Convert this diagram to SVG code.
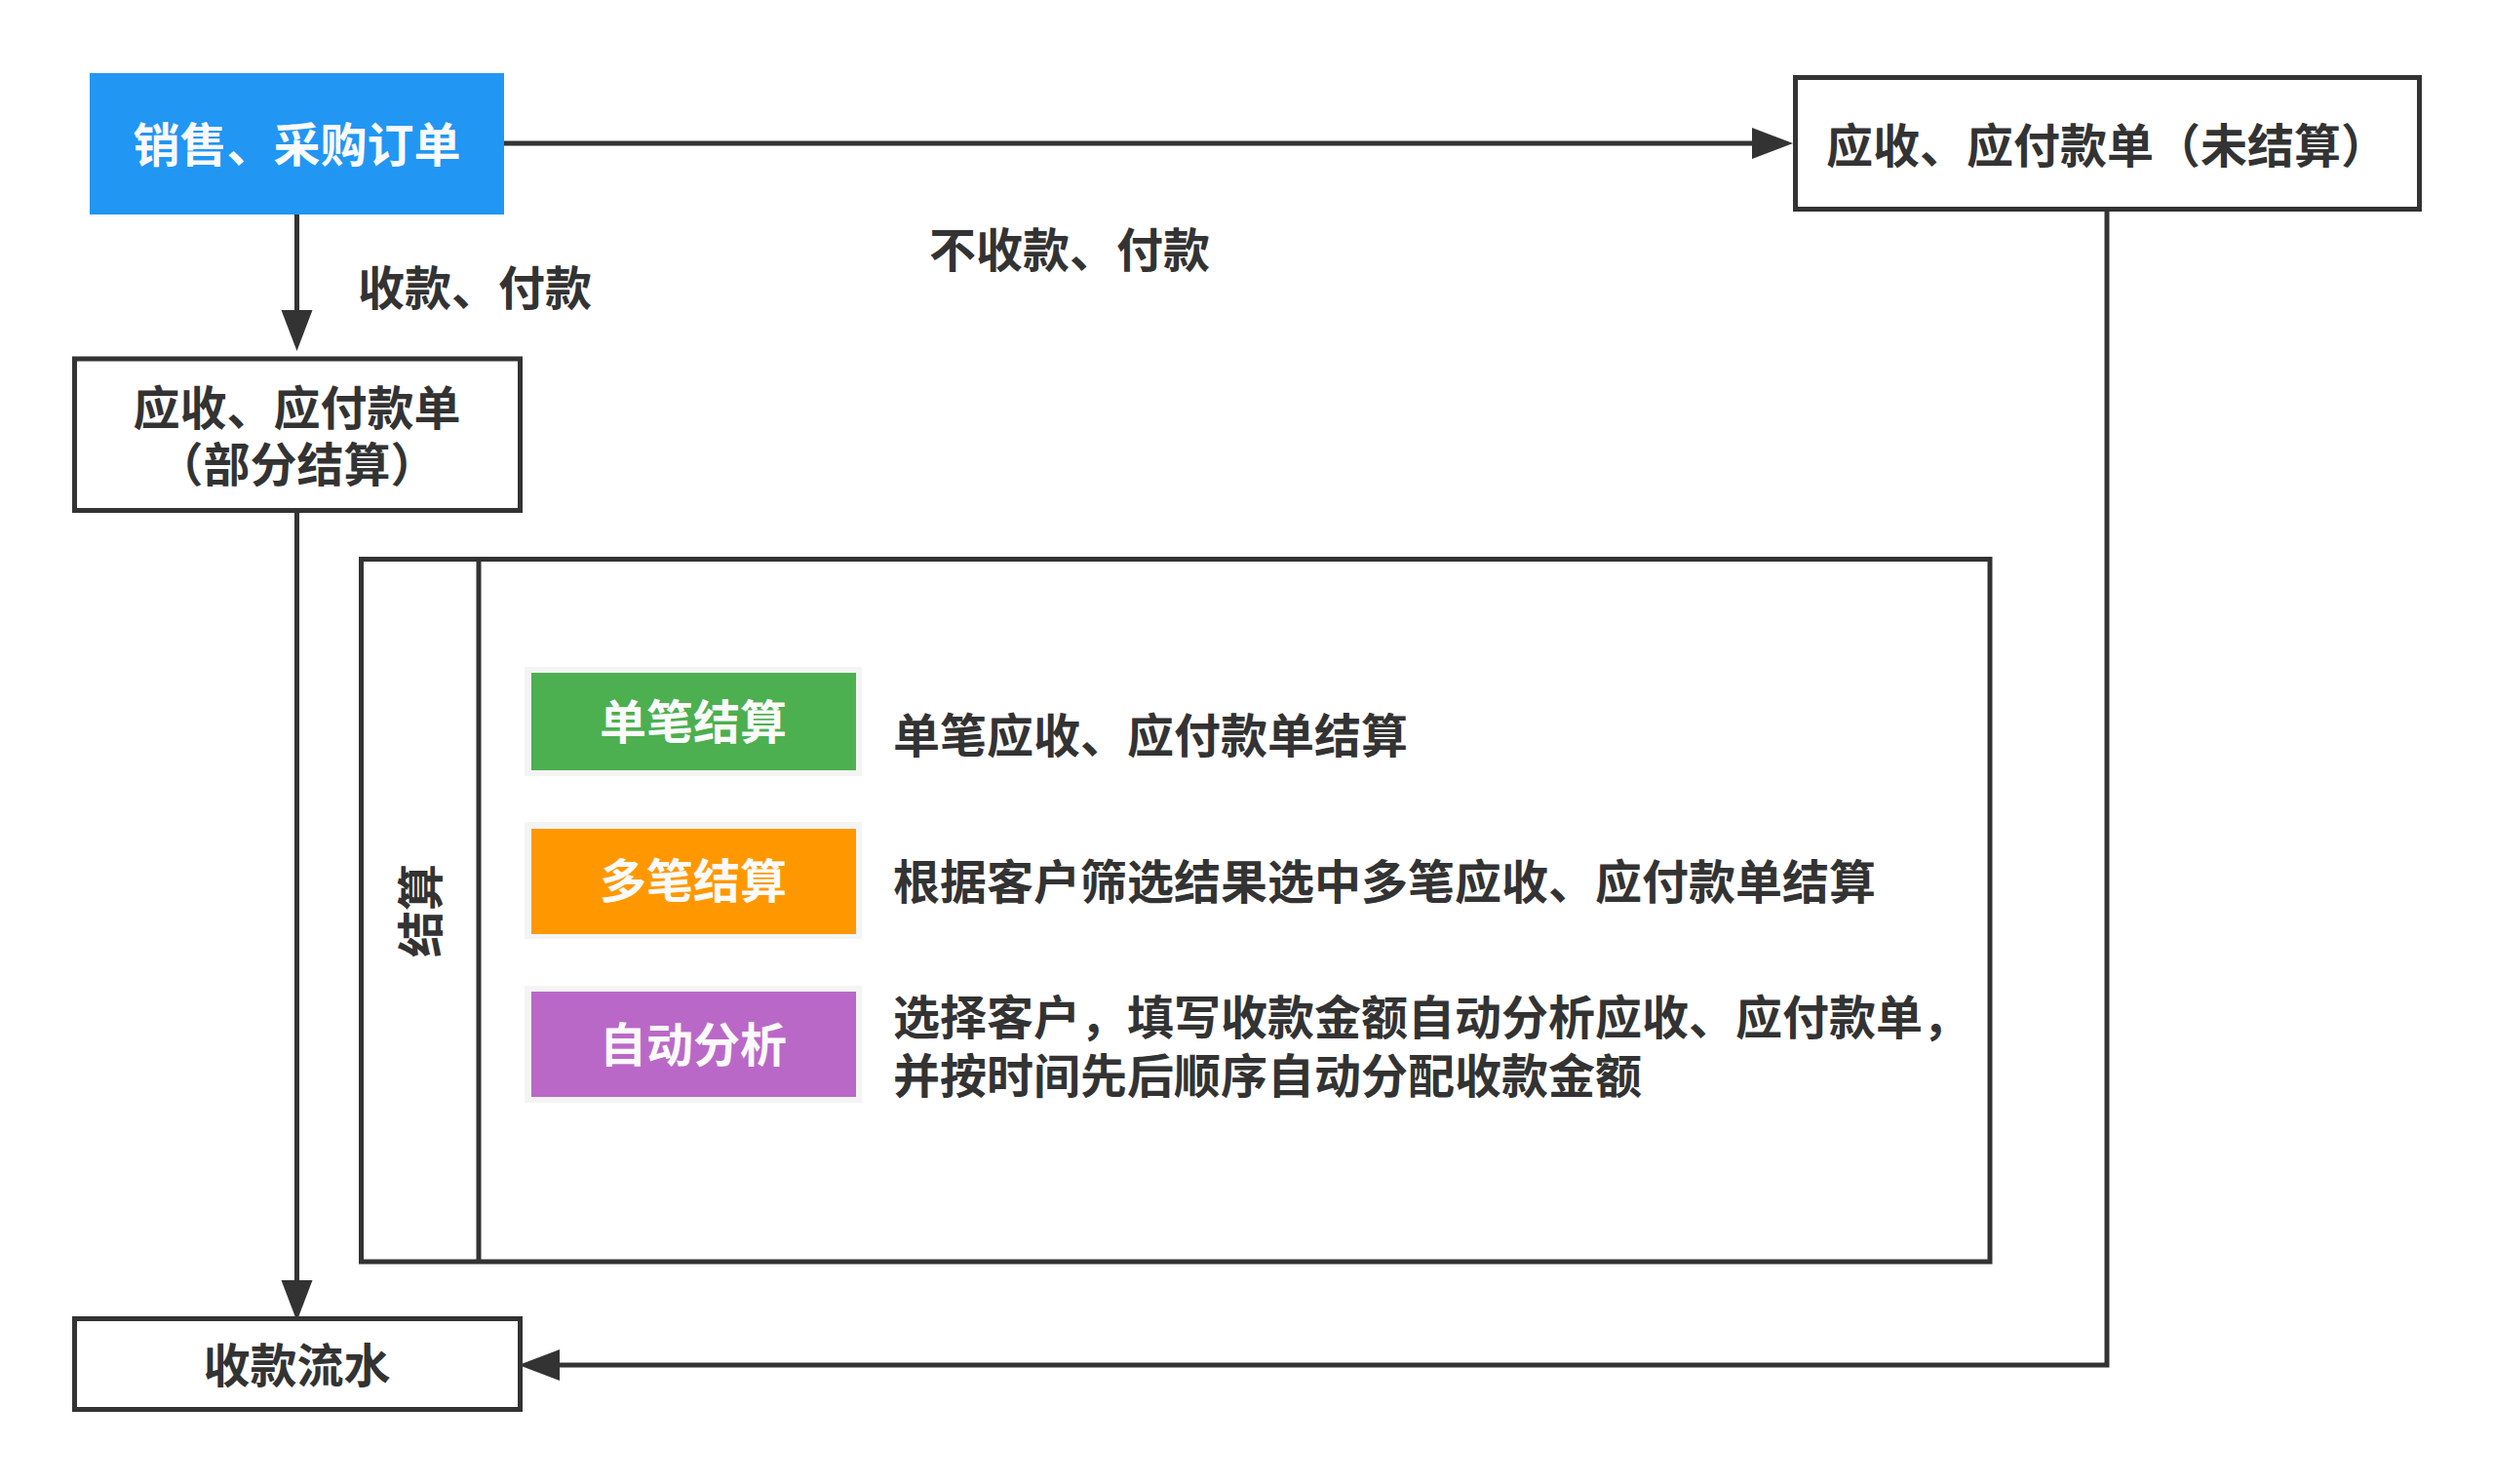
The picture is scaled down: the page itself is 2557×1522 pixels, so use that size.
<svg xmlns="http://www.w3.org/2000/svg" width="2557" height="1522" viewBox="0 0 2557 1522">
<style>
  text { font-family: "Noto Sans CJK SC", "Noto Sans", sans-serif; font-weight: bold; font-size: 48px; fill: #333333; }
  .w { fill: #fafafa; }
  .box { fill: #ffffff; stroke: #333333; stroke-width: 5; }
  .edge { fill: none; stroke: #333333; stroke-width: 5; }
  .halo { fill: #f4f4f4; }
  .mid { text-anchor: middle; }
</style>
<defs>
  <marker id="arrow" markerUnits="userSpaceOnUse" markerWidth="44" markerHeight="34" refX="0" refY="16" orient="auto" overflow="visible">
    <path d="M0,0 L42,16 L0,32 Z" fill="#333333"/>
  </marker>
</defs>
<rect width="2557" height="1522" fill="#ffffff"/>

<g id="connectors">
  <path class="edge" d="M517,147 L1797,147" marker-end="url(#arrow)"/>
  <path class="edge" d="M304.5,220 L304.5,318" marker-end="url(#arrow)"/>
  <path class="edge" d="M304.5,526 L304.5,1313" marker-end="url(#arrow)"/>
  <path class="edge" d="M2161,217 L2161,1400 L574,1400" marker-end="url(#arrow)"/>
  <text x="367" y="313">收款、付款</text>
  <text x="953" y="274">不收款、付款</text>
</g>

<g id="node-order">
  <rect x="92" y="75" width="425" height="145" fill="#2196F3"/>
  <text class="w mid" x="304.5" y="166">销售、采购订单</text>
</g>

<g id="node-unsettled">
  <rect class="box" x="1841.5" y="79.5" width="640" height="135"/>
  <text class="mid" x="2161" y="167">应收、应付款单（未结算）</text>
</g>

<g id="node-partial">
  <rect class="box" x="76.5" y="368" width="457" height="155.5"/>
  <text class="mid" x="304.5" y="436">应收、应付款单</text>
  <text class="mid" x="304.5" y="494">（部分结算）</text>
</g>

<g id="node-flow">
  <rect class="box" x="76.5" y="1352.5" width="457" height="93"/>
  <text class="mid" x="304.5" y="1418">收款流水</text>
</g>

<g id="node-settle">
  <rect class="box" x="370.5" y="573.5" width="1670.5" height="720.5"/>
  <line x1="491" y1="573.5" x2="491" y2="1294" stroke="#333333" stroke-width="5"/>
  <text class="mid" transform="translate(432,934) rotate(-90)" x="0" y="17">结算</text>
</g>

<g id="node-single">
  <rect class="halo" x="538" y="684" width="346" height="112"/>
  <rect x="545" y="690" width="333" height="100" fill="#4CAF50"/>
  <text class="w mid" x="711" y="758">单笔结算</text>
  <text x="916" y="772">单笔应收、应付款单结算</text>
</g>

<g id="node-multi">
  <rect class="halo" x="538" y="843" width="346" height="120"/>
  <rect x="545" y="850" width="333" height="108" fill="#FF9800"/>
  <text class="w mid" x="711" y="921">多笔结算</text>
  <text x="916" y="922">根据客户筛选结果选中多笔应收、应付款单结算</text>
</g>

<g id="node-auto">
  <rect class="halo" x="538" y="1011" width="346" height="120"/>
  <rect x="545" y="1017" width="333" height="108" fill="#BA68C8"/>
  <text class="w mid" x="711" y="1089">自动分析</text>
  <text x="916" y="1061">选择客户，填写收款金额自动分析应收、应付款单，</text>
  <text x="916" y="1121">并按时间先后顺序自动分配收款金额</text>
</g>
</svg>
